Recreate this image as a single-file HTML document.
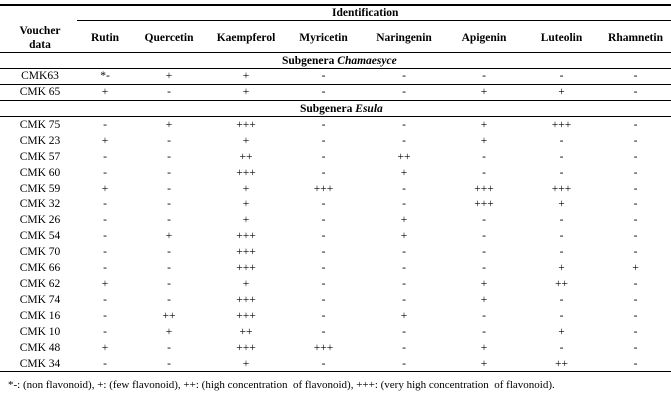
<!DOCTYPE html><html><head><style>
body{margin:0;background:#fff;width:671px;height:401px;position:relative;font-family:"Liberation Serif",serif;font-size:11.5px;color:#000;overflow:hidden}
.l{position:absolute;height:1px;background:#000}
.r{position:absolute;left:0;width:671px;display:grid;grid-template-columns:80px 50px 78px 76px 79px 82px 78px 77px 71px;text-align:center;line-height:14px}
.h{font-weight:bold}
.s{position:absolute;font-weight:bold;line-height:14px}
</style></head><body>
<div class="l" style="top:4px;left:0;width:671px;height:1.5px"></div>
<div class="l" style="top:20px;left:77px;width:594px"></div>
<div class="s" style="top:6px;left:332px">Identification</div>
<div class="r h" style="top:24px"><div>Voucher<br>data</div></div>
<div class="r h" style="top:31px"><div></div><div>Rutin</div><div>Quercetin</div><div>Kaempferol</div><div>Myricetin</div><div>Naringenin</div><div>Apigenin</div><div>Luteolin</div><div>Rhamnetin</div></div>
<div class="l" style="top:52px;left:0;width:671px"></div>
<div class="s" style="top:54px;left:282px">Subgenera <i>Chamaesyce</i></div>
<div class="l" style="top:68px;left:0;width:671px"></div>
<div class="r" style="top:69px"><div>CMK63</div><div>*-</div><div>+</div><div>+</div><div>-</div><div>-</div><div>-</div><div>-</div><div>-</div></div>
<div class="l" style="top:84px;left:0;width:671px"></div>
<div class="r" style="top:85px"><div>CMK 65</div><div>+</div><div>-</div><div>+</div><div>-</div><div>-</div><div>+</div><div>+</div><div>-</div></div>
<div class="l" style="top:100px;left:0;width:671px"></div>
<div class="s" style="top:102px;left:300px">Subgenera <i>Esula</i></div>
<div class="l" style="top:116px;left:0;width:671px"></div>
<div class="r" style="top:118px"><div>CMK 75</div><div>-</div><div>+</div><div>+++</div><div>-</div><div>-</div><div>+</div><div>+++</div><div>-</div></div>
<div class="r" style="top:134px"><div>CMK 23</div><div>+</div><div>-</div><div>+</div><div>-</div><div>-</div><div>+</div><div>-</div><div>-</div></div>
<div class="r" style="top:150px"><div>CMK 57</div><div>-</div><div>-</div><div>++</div><div>-</div><div>++</div><div>-</div><div>-</div><div>-</div></div>
<div class="r" style="top:166px"><div>CMK 60</div><div>-</div><div>-</div><div>+++</div><div>-</div><div>+</div><div>-</div><div>-</div><div>-</div></div>
<div class="r" style="top:182px"><div>CMK 59</div><div>+</div><div>-</div><div>+</div><div>+++</div><div>-</div><div>+++</div><div>+++</div><div>-</div></div>
<div class="r" style="top:197px"><div>CMK 32</div><div>-</div><div>-</div><div>+</div><div>-</div><div>-</div><div>+++</div><div>+</div><div>-</div></div>
<div class="r" style="top:213px"><div>CMK 26</div><div>-</div><div>-</div><div>+</div><div>-</div><div>+</div><div>-</div><div>-</div><div>-</div></div>
<div class="r" style="top:229px"><div>CMK 54</div><div>-</div><div>+</div><div>+++</div><div>-</div><div>+</div><div>-</div><div>-</div><div>-</div></div>
<div class="r" style="top:245px"><div>CMK 70</div><div>-</div><div>-</div><div>+++</div><div>-</div><div>-</div><div>-</div><div>-</div><div>-</div></div>
<div class="r" style="top:261px"><div>CMK 66</div><div>-</div><div>-</div><div>+++</div><div>-</div><div>-</div><div>-</div><div>+</div><div>+</div></div>
<div class="r" style="top:277px"><div>CMK 62</div><div>+</div><div>-</div><div>+</div><div>-</div><div>-</div><div>+</div><div>++</div><div>-</div></div>
<div class="r" style="top:293px"><div>CMK 74</div><div>-</div><div>-</div><div>+++</div><div>-</div><div>-</div><div>+</div><div>-</div><div>-</div></div>
<div class="r" style="top:309px"><div>CMK 16</div><div>-</div><div>++</div><div>+++</div><div>-</div><div>+</div><div>-</div><div>-</div><div>-</div></div>
<div class="r" style="top:325px"><div>CMK 10</div><div>-</div><div>+</div><div>++</div><div>-</div><div>-</div><div>-</div><div>+</div><div>-</div></div>
<div class="r" style="top:341px"><div>CMK 48</div><div>+</div><div>-</div><div>+++</div><div>+++</div><div>-</div><div>+</div><div>-</div><div>-</div></div>
<div class="r" style="top:357px"><div>CMK 34</div><div>-</div><div>-</div><div>+</div><div>-</div><div>-</div><div>+</div><div>++</div><div>-</div></div>
<div class="l" style="top:371px;left:0;width:671px"></div>
<div style="position:absolute;top:378px;left:8px;font-size:11px;line-height:14px">*-: (non flavonoid), +: (few flavonoid), ++: (high concentration &nbsp;of flavonoid), +++: (very high concentration &nbsp;of flavonoid).</div>
</body></html>
